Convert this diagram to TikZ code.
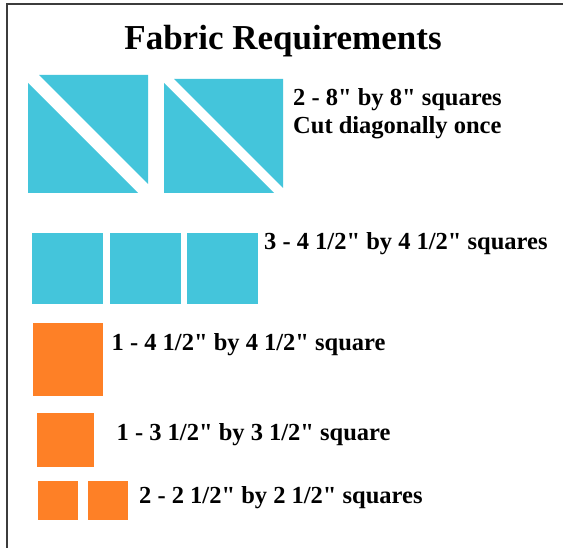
\documentclass[tikz,border=0pt]{standalone}
\usepackage{fontspec}
\setmainfont{Liberation Serif}[Ligatures=TeXOff]
\definecolor{fabcyan}{RGB}{68,197,219}
\definecolor{faborange}{RGB}{254,128,38}
\definecolor{framegray}{RGB}{60,60,60}
\begin{document}
\begin{tikzpicture}[x=1pt,y=-1pt,
  lbl/.style={anchor=base west,inner sep=0pt,font=\fontsize{24.5}{28}\selectfont\bfseries},
  ttl/.style={anchor=base,inner sep=0pt,font=\fontsize{35}{40}\selectfont\bfseries},
  cyanpiece/.style={fill=fabcyan},
  orangepiece/.style={fill=faborange}]
\useasboundingbox (0,0) rectangle (563,548);
\fill[white] (0,0) rectangle (563,548);
% frame
\draw[framegray,line width=1.5pt] (7,548) -- (7,4) -- (563,4);
% title
\node[ttl] (title) at (283,50) {Fabric Requirements};
% 8" squares cut diagonally
\fill[cyanpiece] (28,83) -- (28,193) -- (138,193) -- cycle;
\fill[cyanpiece] (39,75) -- (148,75) -- (148,184) -- cycle;
\fill[cyanpiece] (164,83) -- (164,193) -- (274,193) -- cycle;
\fill[cyanpiece] (174,79) -- (283,79) -- (283,188) -- cycle;
\node[lbl] (l1a) at (293,106) {2 - 8" by 8" squares};
\node[lbl] (l1b) at (293,134) {Cut diagonally once};
% 4 1/2" cyan squares
\fill[cyanpiece] (32,233) rectangle (103,304);
\fill[cyanpiece] (110,233) rectangle (181,304);
\fill[cyanpiece] (186.5,233) rectangle (258,304);
\node[lbl] (l2) at (264,249.5) {3 - 4 1/2" by 4 1/2" squares};
% 4 1/2" orange square
\fill[orangepiece] (33,323.5) rectangle (103,396);
\node[lbl] (l3) at (111.5,351) {1 - 4 1/2" by 4 1/2" square};
% 3 1/2" orange square
\fill[orangepiece] (36.5,413.5) rectangle (94,466.5);
\node[lbl] (l4) at (116.5,440.5) {1 - 3 1/2" by 3 1/2" square};
% 2 1/2" orange squares
\fill[orangepiece] (37.5,481) rectangle (78,520);
\fill[orangepiece] (87.5,481) rectangle (127.5,520);
\node[lbl] (l5) at (139,503) {2 - 2 1/2" by 2 1/2" squares};
\end{tikzpicture}
\end{document}
